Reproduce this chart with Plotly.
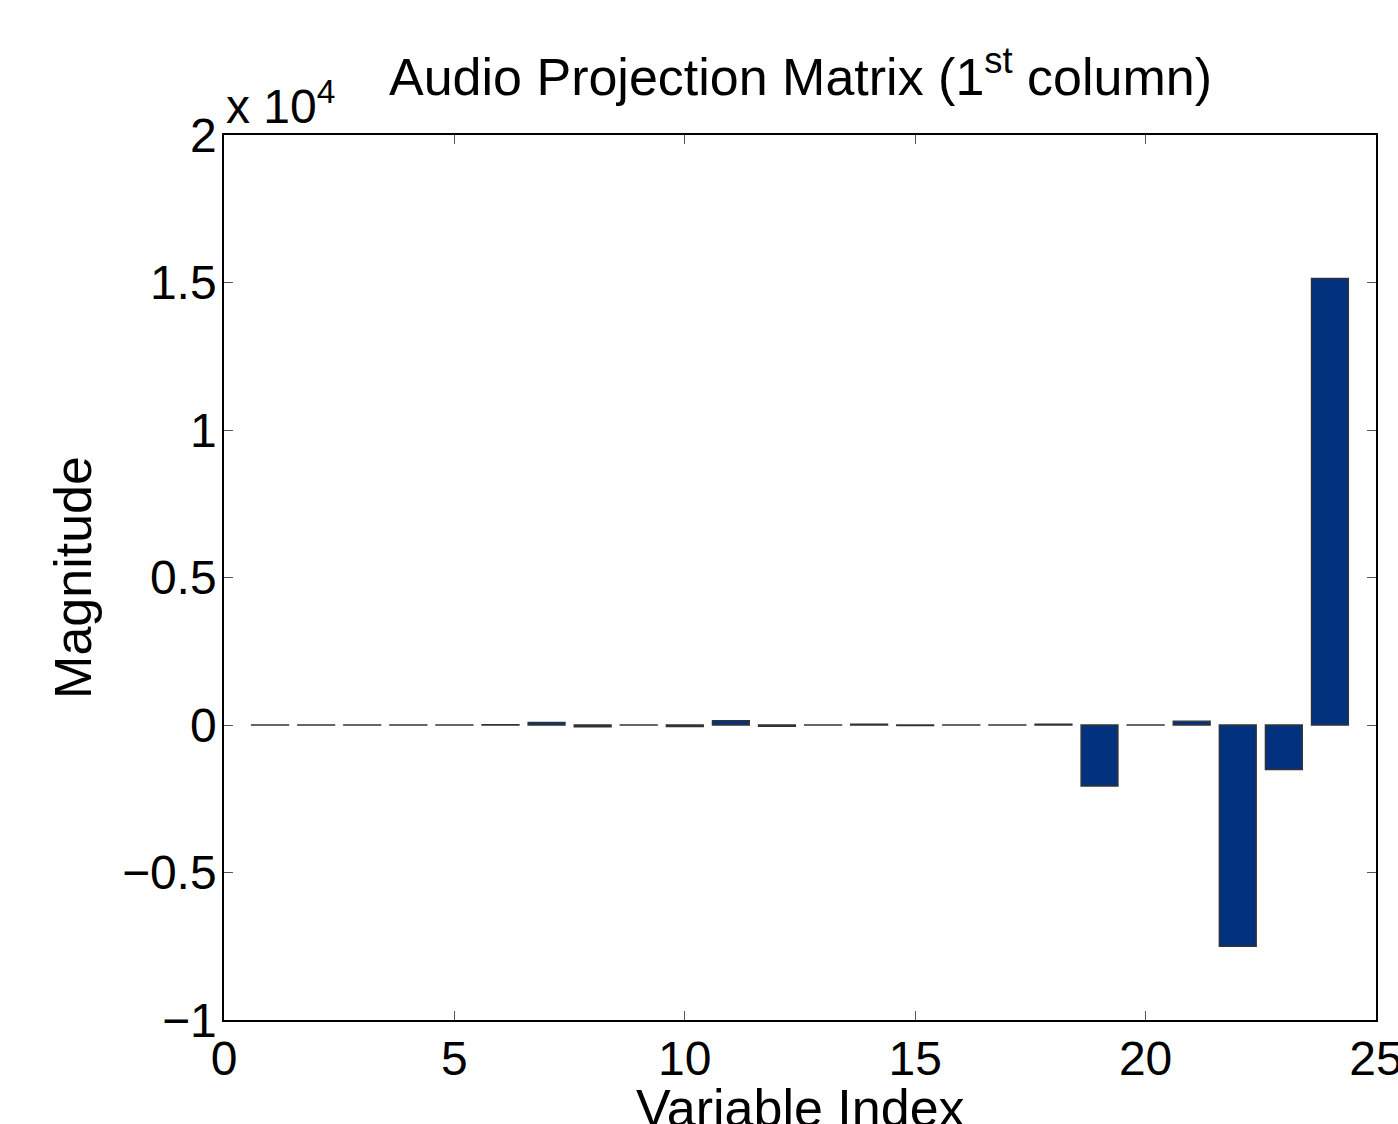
import plotly.graph_objects as go

variable_index = list(range(1, 25))
magnitude = [4, -4, 4, -4, 4, 10, 90, -60, 4, -50, 150, -40,
             -4, 30, -20, 4, -4, 30, -2070, 4, 130, -7500, -1510, 15140]

ytick_vals = [-10000, -5000, 0, 5000, 10000, 15000, 20000]
ytick_text = ["\u22121", "\u22120.5", "0", "0.5", "1", "1.5", "2"]
xtick_vals = [0, 5, 10, 15, 20, 25]

FONT = "Liberation Sans, Arial, Helvetica, sans-serif"

fig = go.Figure()
fig.add_trace(go.Bar(
    x=variable_index, y=magnitude, width=0.8,
    marker=dict(color="#02327e", line=dict(color="#333333", width=1.4)),
    showlegend=False,
))

fig.update_layout(
    width=1398, height=1124,
    margin=dict(l=223.5, r=22, t=134.5, b=103.5, autoexpand=False),
    paper_bgcolor="white", plot_bgcolor="white",
    font=dict(family=FONT, size=48, color="black"),
    xaxis=dict(range=[0, 25], tickvals=xtick_vals, ticks="inside", ticklen=9,
               tickwidth=1, tickcolor="#555", showline=True, linecolor="black",
               linewidth=1.5, mirror="ticks", showgrid=False, zeroline=False,
               tickfont=dict(size=48), ticklabelstandoff=-4,
               ticklabeloverflow="allow"),
    yaxis=dict(range=[-10000, 20000], tickvals=ytick_vals, ticktext=ytick_text,
               ticks="inside", ticklen=9, tickwidth=1, tickcolor="#555",
               showline=True, linecolor="black", linewidth=1.5, mirror="ticks",
               showgrid=False, zeroline=False, tickfont=dict(size=48),
               ticklabelstandoff=-4, ticklabeloverflow="allow",
               title=dict(text="Magnitude", font=dict(size=52), standoff=14)),
    annotations=[
        dict(text="Audio Projection Matrix (1<sup>st</sup> column)", x=0.5, y=1.031,
             xref="paper", yref="paper", xanchor="center", yanchor="bottom",
             showarrow=False, font=dict(size=52)),
        dict(text="x 10<sup>4</sup>", x=0.0, y=1.0, xref="paper", yref="paper",
             xanchor="left", yanchor="bottom", showarrow=False, font=dict(size=48)),
        dict(text="Variable Index", x=0.5, y=-0.064, xref="paper", yref="paper",
             xanchor="center", yanchor="top", showarrow=False, font=dict(size=52)),
    ],
)

fig.write_html("out.html")
